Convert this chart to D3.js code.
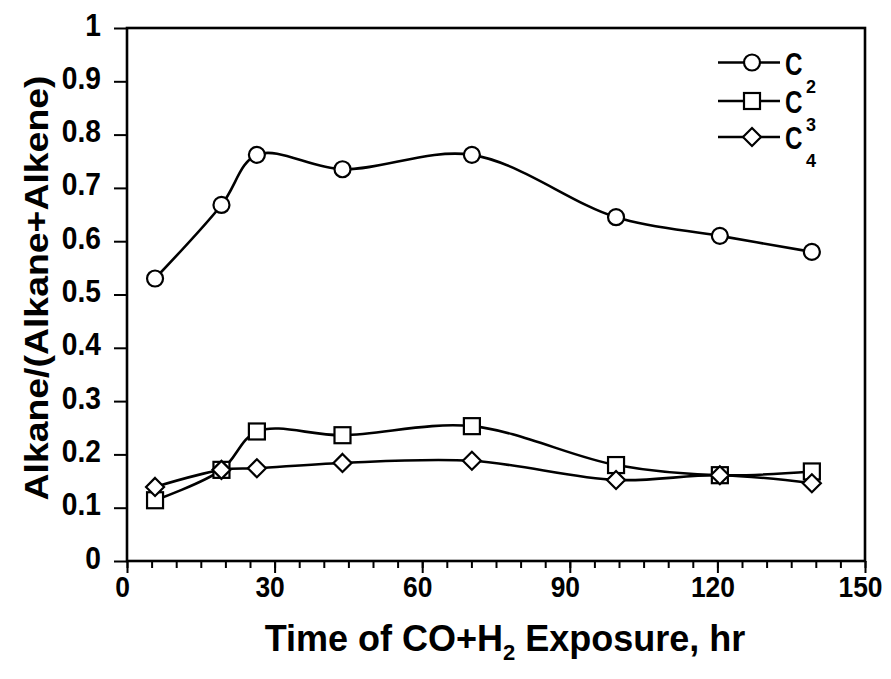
<!DOCTYPE html>
<html><head><meta charset="utf-8">
<script src="https://cdn.jsdelivr.net/npm/d3@7"></script>
<style>
html,body{margin:0;padding:0;background:#fff;}
svg{display:block;}
text{font-family:"Liberation Sans",Arial,sans-serif;font-weight:bold;fill:#000;}
</style></head>
<body>
<script>
const hours = [5.7, 19.2, 26.4, 43.8, 70.1, 99.4, 120.5, 139.2];
const c2 = [0.530, 0.668, 0.762, 0.735, 0.762, 0.645, 0.610, 0.580];
const c3 = [0.114, 0.171, 0.243, 0.236, 0.253, 0.180, 0.161, 0.168];
const c4 = [0.139, 0.171, 0.174, 0.184, 0.188, 0.152, 0.161, 0.146];
const seriesNames = ["C", "C", "C"];
const seriesSubs = ["2", "3", "4"];
const markers = ["circle", "square", "diamond"];
const xTicks = [0, 30, 60, 90, 120, 150];
const yTicks = [0, 0.1, 0.2, 0.3, 0.4, 0.5, 0.6, 0.7, 0.8, 0.9, 1];
const yTickLabels = ["0", "0.1", "0.2", "0.3", "0.4", "0.5", "0.6", "0.7", "0.8", "0.9", "1"];

const W = 891, H = 679;
const L = 127, R = 865, T = 28, B = 561;
const svg = d3.select("body").append("svg").attr("width", W).attr("height", H);

const x = d3.scaleLinear().domain([0, 150]).range([L, R]);
const y = d3.scaleLinear().domain([0, 1]).range([B, T]);

function condense(sel, f) {
  sel.each(function () {
    const len = this.getComputedTextLength();
    d3.select(this).attr("textLength", len * f).attr("lengthAdjust", "spacingAndGlyphs");
  });
}

// frame
svg.append("rect").attr("x", L).attr("y", T).attr("width", R - L).attr("height", B - T)
  .attr("fill", "none").attr("stroke", "#000").attr("stroke-width", 2.6);

// y axis ticks
const yAxis = d3.axisLeft(y).tickValues(yTicks).tickSize(13).tickPadding(13)
  .tickFormat((d, i) => yTickLabels[i]);
const gy = svg.append("g").attr("transform", `translate(${L},0)`).call(yAxis);
gy.select(".domain").remove();
gy.selectAll("line").attr("stroke", "#000").attr("stroke-width", 2);
gy.selectAll("text").style("font-family", '"Liberation Sans",Arial,sans-serif')
  .style("font-size", "32px").style("font-weight", "bold").attr("dy", "0.22em");
condense(gy.selectAll("text"), 0.88);

// x axis minor ticks
const gxm = svg.append("g").attr("transform", `translate(0,${B})`)
  .call(d3.axisBottom(x).tickValues(d3.range(0, 151, 5)).tickSize(7).tickFormat(""));
gxm.select(".domain").remove();
gxm.selectAll("line").attr("stroke", "#000").attr("stroke-width", 2);
// major ticks
const gx = svg.append("g").attr("transform", `translate(0,${B})`)
  .call(d3.axisBottom(x).tickValues(xTicks).tickSize(12).tickPadding(4).tickFormat(d3.format("d")));
gx.select(".domain").remove();
gx.selectAll("line").attr("stroke", "#000").attr("stroke-width", 2);
gx.selectAll("text").style("font-size", "30px").attr("dy", "0.66em").attr("dx", -5);
condense(gx.selectAll("text"), 0.88);

// axis titles
const yt = svg.append("text").attr("transform", `translate(48,288) rotate(-90)`)
  .attr("text-anchor", "middle").style("font-size", "34px").text("Alkane/(Alkane+Alkene)");
yt.attr("textLength", 425).attr("lengthAdjust", "spacingAndGlyphs");
const xt = svg.append("text").attr("x", 505).attr("y", 651).attr("text-anchor", "middle")
  .style("font-size", "36px");
xt.append("tspan").text("Time of CO+H");
xt.append("tspan").attr("dy", 9).style("font-size", "22px").text("2");
xt.append("tspan").attr("dy", -9).text(" Exposure, hr");

// lines
const line = d3.line().x(d => x(d[0])).y(d => y(d[1])).curve(d3.curveCatmullRom.alpha(0.5));
const all = [c2, c3, c4];
all.forEach(vals => {
  const pts = hours.map((h, i) => [h, vals[i]]);
  svg.append("path").attr("d", line(pts)).attr("fill", "none")
    .attr("stroke", "#000").attr("stroke-width", 2.6);
});

function drawMarker(g, type, cx, cy) {
  if (type === "circle") {
    g.append("circle").attr("cx", cx).attr("cy", cy).attr("r", 8)
      .attr("fill", "#fff").attr("stroke", "#000").attr("stroke-width", 2.2);
  } else if (type === "square") {
    g.append("rect").attr("x", cx - 8).attr("y", cy - 8).attr("width", 16).attr("height", 16)
      .attr("fill", "#fff").attr("stroke", "#000").attr("stroke-width", 2.2);
  } else {
    g.append("path").attr("d", `M${cx},${cy - 9}L${cx + 9},${cy}L${cx},${cy + 9}L${cx - 9},${cy}Z`)
      .attr("fill", "#fff").attr("stroke", "#000").attr("stroke-width", 2.2);
  }
}
const gm = svg.append("g");
all.forEach((vals, s) => {
  hours.forEach((h, i) => drawMarker(gm, markers[s], x(h), y(vals[i])));
});

// legend
const legY = [62.5, 101, 137];
const lg = svg.append("g");
seriesNames.forEach((n, i) => {
  lg.append("line").attr("x1", 718).attr("x2", 780).attr("y1", legY[i]).attr("y2", legY[i])
    .attr("stroke", "#000").attr("stroke-width", 2.4);
  drawMarker(lg, markers[i], 752, legY[i]);
  const t = lg.append("text").attr("x", 785).attr("y", legY[i] + 12).style("font-size", "31px").text(n);
  condense(t, 0.78);
  lg.append("text").attr("x", 806).attr("y", legY[i] + 30).style("font-size", "18px").text(seriesSubs[i]);
});
</script>
</body></html>
